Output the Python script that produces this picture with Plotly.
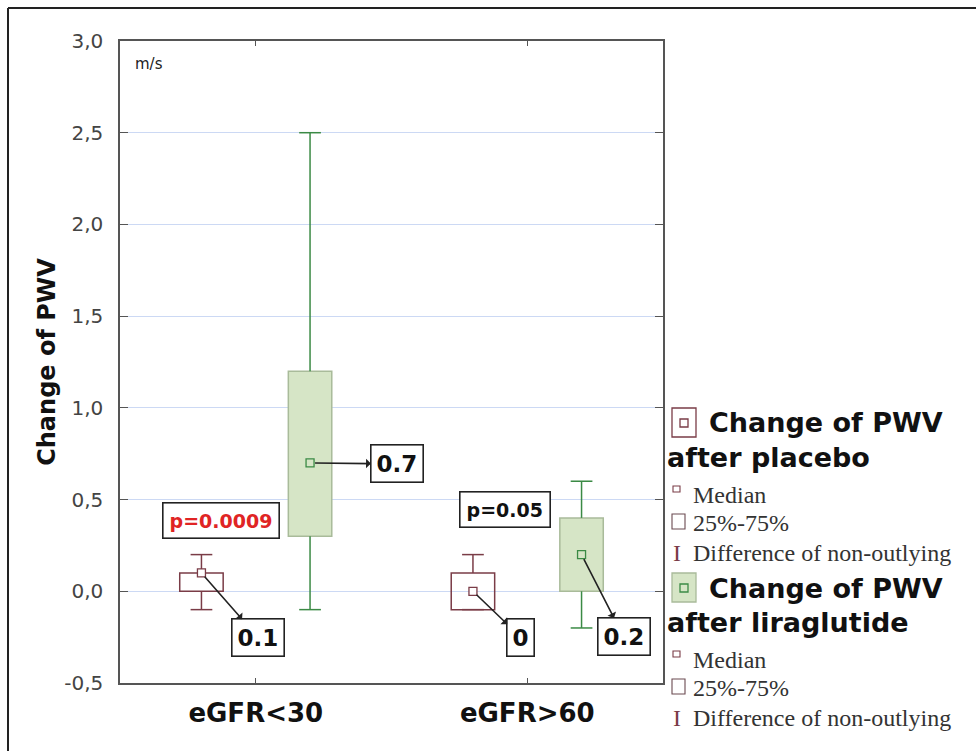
import plotly.graph_objects as go
import numpy as np

# ---------------- data ----------------
categories = ["eGFR<30", "eGFR>60"]
placebo_name = "Change of PWV after placebo"
lira_name = "Change of PWV after liraglutide"

placebo_median = [0.1, 0.0]
placebo_q1 = [0.0, -0.1]
placebo_q3 = [0.1, 0.1]
placebo_low = [-0.1, -0.1]
placebo_high = [0.2, 0.2]

lira_median = [0.7, 0.2]
lira_q1 = [0.3, 0.0]
lira_q3 = [1.2, 0.4]
lira_low = [-0.1, -0.2]
lira_high = [2.5, 0.6]

placebo_labels = ["0.1", "0"]
lira_labels = ["0.7", "0.2"]
p_values = ["p=0.0009", "p=0.05"]
p_colors = ["#e02424", "#111111"]

y_ticks = [-0.5, 0.0, 0.5, 1.0, 1.5, 2.0, 2.5, 3.0]
y_ticktext = [("%.1f" % v).replace(".", ",") for v in y_ticks]

# ---------------- styling ----------------
W, H = 976, 751
ML, MR, MT, MB = 120, 313, 41, 68
PW, PH = W - ML - MR, H - MT - MB

MAROON = "#7a3c47"
GREEN = "#3b8a45"
GREEN_FILL = "#d6e5c6"
GREEN_EDGE = "#a9bb9a"
GRID = "#ccd9f4"
FRAME = "#555555"

OFFSET = 0.2      # box offset from category centre (x units)
BOXW = 0.16       # box width (x units)
CAPW = 0.04       # half cap width (x units)

SANS = "DejaVu Sans"
SERIF = "Liberation Serif"


def px(xp):
    return (xp - ML) / PW


def py(yp):
    return (MT + PH - yp) / PH


xpos = np.arange(len(categories), dtype=float)

fig = go.Figure()


def add_series(name, med, q1, q3, lo, hi, sign, fill, edge, wcol, mfill, mline):
    xs = xpos + sign * OFFSET
    fig.add_trace(go.Bar(
        x=xs, base=q1, y=np.array(q3) - np.array(q1), width=BOXW,
        marker=dict(color=fill, line=dict(color=edge, width=1.5)),
        name=name, showlegend=False, hoverinfo="skip"))
    lx, ly = [], []
    for x, a, b, c, d in zip(xs, q1, q3, lo, hi):
        lx += [x, x, None, x, x, None, x - CAPW, x + CAPW, None, x - CAPW, x + CAPW, None]
        ly += [b, d, None, a, c, None, d, d, None, c, c, None]
    fig.add_trace(go.Scatter(x=lx, y=ly, mode="lines",
                             line=dict(color=wcol, width=1.5),
                             showlegend=False, hoverinfo="skip"))
    fig.add_trace(go.Scatter(x=xs, y=med, mode="markers",
                             marker=dict(symbol="square", size=8, color=mfill,
                                         line=dict(color=mline, width=1.3)),
                             showlegend=False, name=name))
    return xs


xs_p = add_series(placebo_name, placebo_median, placebo_q1, placebo_q3,
                  placebo_low, placebo_high, -1, "rgba(255,255,255,0)", MAROON,
                  MAROON, "white", MAROON)
xs_l = add_series(lira_name, lira_median, lira_q1, lira_q3,
                  lira_low, lira_high, 1, GREEN_FILL, GREEN_EDGE,
                  GREEN, GREEN_FILL, GREEN)

annotations = []
# median value labels with arrows (arrow from marker to label)
p_offsets = [(57, 65), (48, 46)]
l_offsets = [(87, 1), (42, 82)]
for xs, meds, labs, offs in [(xs_p, placebo_median, placebo_labels, p_offsets),
                             (xs_l, lira_median, lira_labels, l_offsets)]:
    for x, m, lab, (ax, ay) in zip(xs, meds, labs, offs):
        annotations.append(dict(
            x=x, y=m, xref="x", yref="y", text="<b>%s</b>" % lab,
            showarrow=True, ax=ax, ay=ay, arrowside="start", arrowhead=2,
            arrowsize=2.1, arrowwidth=1.6, arrowcolor="#222222", standoff=5,
            font=dict(family=SANS, size=23, color="#111111"),
            bgcolor="white", bordercolor="#222222", borderwidth=1.6, borderpad=5))

# p-value boxes
p_pos = [(-0.128, 0.385), (0.918, 0.447)]
for (x, y), txt, col in zip(p_pos, p_values, p_colors):
    annotations.append(dict(
        x=x, y=y, xref="x", yref="y", text="<b>%s</b>" % txt, showarrow=False,
        font=dict(family=SANS, size=19, color=col),
        bgcolor="white", bordercolor="#222222", borderwidth=1.6, borderpad=6))

# unit label
annotations.append(dict(x=px(133), y=py(64), xref="paper", yref="paper",
                        text="m/s", showarrow=False, xanchor="left", yanchor="middle",
                        font=dict(family=SANS, size=15, color="#222222")))

shapes = []
# outer border (top and left edges)
shapes.append(dict(type="line", xref="paper", yref="paper",
                   x0=px(8), x1=px(1000), y0=py(8), y1=py(8),
                   line=dict(color="#222222", width=2)))
shapes.append(dict(type="line", xref="paper", yref="paper",
                   x0=px(8), x1=px(8), y0=py(8), y1=py(780),
                   line=dict(color="#222222", width=2)))


def rect(x0, y0, x1, y1, line, fill, lw=1.3):
    shapes.append(dict(type="rect", xref="paper", yref="paper",
                       x0=px(x0), x1=px(x1), y0=py(y1), y1=py(y0),
                       line=dict(color=line, width=lw), fillcolor=fill))


def text(x, y, t, family, size, color="#1a1a1a", bold=False):
    annotations.append(dict(x=px(x), y=py(y), xref="paper", yref="paper",
                            text=("<b>%s</b>" % t) if bold else t, showarrow=False,
                            xanchor="left", yanchor="middle",
                            font=dict(family=family, size=size, color=color)))


# custom legend
legend_blocks = [
    (408, placebo_name, "white", MAROON, MAROON),
    (573, lira_name, GREEN_FILL, GREEN_EDGE, GREEN),
]
for top, name, fill, edge, inner in legend_blocks:
    first, second = name.split(" after ")
    rect(672, top, 696, top + 29, edge, fill)
    rect(680, top + 11, 688, top + 19, inner, "rgba(0,0,0,0)")
    text(707, top + 15, first, SANS, 27, "#111111", bold=True)
    text(665, top + 49, "after " + second, SANS, 27, "#111111", bold=True)
    rect(673, top + 78, 680, top + 84, MAROON, "white", 1.1)
    text(691, top + 87, "Median", SERIF, 24, "#333333")
    rect(672, top + 106, 685, top + 121, "#6b4a50", "white", 1.1)
    text(691, top + 115, "25%-75%", SERIF, 24, "#333333")
    text(671, top + 145, "I", SERIF, 24, MAROON)
    text(691, top + 145, "Difference of non-outlying", SERIF, 24, "#333333")

fig.update_layout(
    width=W, height=H, margin=dict(l=ML, r=MR, t=MT, b=MB, autoexpand=False),
    paper_bgcolor="white", plot_bgcolor="white",
    barmode="overlay", showlegend=False,
    annotations=annotations, shapes=shapes,
    xaxis=dict(range=[-0.5, 1.5], tickvals=list(xpos), ticktext=categories,
               ticks="inside", ticklen=5, tickcolor=FRAME, showgrid=False,
               zeroline=False, showline=True, linecolor=FRAME, linewidth=1.5,
               mirror="ticks", ticklabelstandoff=6,
               tickfont=dict(family=SANS, size=26, color="#111111", weight="bold")),
    yaxis=dict(range=[-0.5, 3.0], tickvals=y_ticks, ticktext=y_ticktext,
               ticks="inside", ticklen=8, tickcolor=FRAME, showgrid=True,
               gridcolor=GRID, gridwidth=1, zeroline=False, showline=True,
               linecolor=FRAME, linewidth=1.5, mirror="ticks",
               ticklabelstandoff=11,
               tickfont=dict(family=SANS, size=20, color="#444444"),
               title=dict(text="<b>Change of PWV</b>", standoff=2,
                          font=dict(family=SANS, size=24, color="#111111"))),
)

fig.write_html("out.html", config={"displayModeBar": False},
               post_script="document.body.style.margin='0';")
